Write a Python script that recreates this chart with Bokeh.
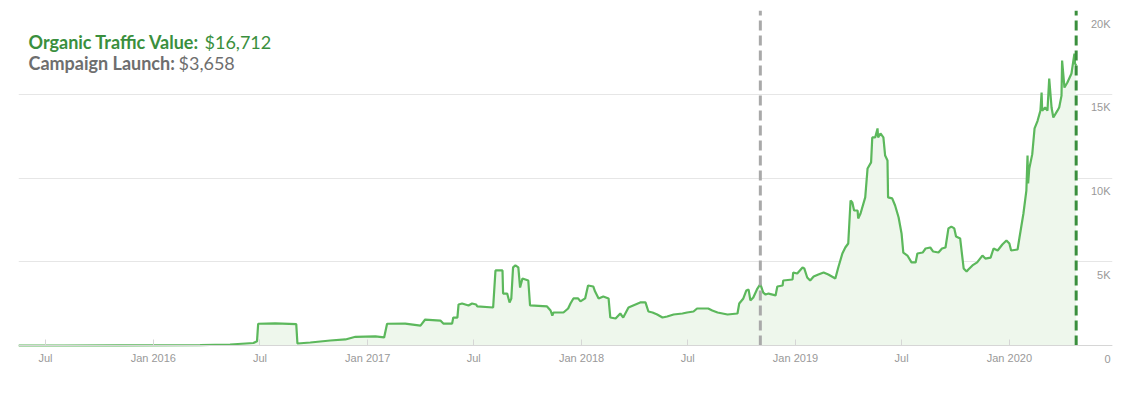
import pandas as pd
from bokeh.plotting import figure
from bokeh.models import (Range1d, FixedTicker, CustomJSTickFormatter, Label,
                          Grid, ColumnDataSource)
from bokeh.embed import file_html
from bokeh.resources import INLINE

# ---------------- data ----------------
dates = [
    "2015-05-16", "2015-08-01", "2015-11-06", "2016-03-21", "2016-05-11", "2016-06-20",
    "2016-06-26", "2016-06-28", "2016-07-27", "2016-09-01", "2016-09-03", "2016-09-25",
    "2016-10-29", "2016-11-24", "2016-12-11", "2017-01-14", "2017-01-29", "2017-02-03",
    "2017-03-06", "2017-04-01", "2017-04-09", "2017-05-05", "2017-05-10", "2017-05-25",
    "2017-05-27", "2017-06-03", "2017-06-05", "2017-06-11", "2017-06-22", "2017-06-28",
    "2017-07-05", "2017-07-07", "2017-08-03", "2017-08-07", "2017-08-19", "2017-08-20",
    "2017-08-27", "2017-08-31", "2017-09-03", "2017-09-06", "2017-09-10", "2017-09-15",
    "2017-09-18", "2017-09-22", "2017-10-02", "2017-10-05", "2017-11-03", "2017-11-09",
    "2017-11-12", "2017-11-14", "2017-12-01", "2017-12-09", "2017-12-13", "2017-12-18",
    "2017-12-26", "2017-12-30", "2018-01-07", "2018-01-12", "2018-01-21", "2018-01-24",
    "2018-01-30", "2018-02-07", "2018-02-16", "2018-02-19", "2018-02-28", "2018-03-08",
    "2018-03-13", "2018-03-22", "2018-03-30", "2018-04-11", "2018-04-20", "2018-04-25",
    "2018-05-02", "2018-05-10", "2018-05-19", "2018-05-27", "2018-06-07", "2018-06-22",
    "2018-06-30", "2018-07-11", "2018-07-17", "2018-08-05", "2018-08-12", "2018-08-21",
    "2018-09-07", "2018-09-24", "2018-09-27", "2018-10-04", "2018-10-09", "2018-10-13",
    "2018-10-16", "2018-10-21", "2018-10-28", "2018-11-02", "2018-11-07", "2018-11-11",
    "2018-11-16", "2018-11-28", "2018-12-01", "2018-12-10", "2018-12-11", "2018-12-27",
    "2018-12-28", "2019-01-04", "2019-01-13", "2019-01-16", "2019-01-21", "2019-01-26",
    "2019-02-01", "2019-02-09", "2019-02-18", "2019-02-26", "2019-03-07", "2019-03-10",
    "2019-03-15", "2019-03-22", "2019-03-27", "2019-04-01", "2019-04-05", "2019-04-08",
    "2019-04-11", "2019-04-17", "2019-04-18", "2019-04-22", "2019-04-30", "2019-05-04",
    "2019-05-10", "2019-05-12", "2019-05-17", "2019-05-21", "2019-05-22", "2019-05-26",
    "2019-05-31", "2019-06-03", "2019-06-07", "2019-06-08", "2019-06-15", "2019-06-20",
    "2019-06-26", "2019-07-01", "2019-07-04", "2019-07-11", "2019-07-18", "2019-07-25",
    "2019-07-28", "2019-08-06", "2019-08-11", "2019-08-19", "2019-08-24", "2019-09-02",
    "2019-09-08", "2019-09-14", "2019-09-19", "2019-09-24", "2019-09-29", "2019-10-02",
    "2019-10-09", "2019-10-15", "2019-10-20", "2019-10-23", "2019-10-30", "2019-11-07",
    "2019-11-16", "2019-11-21", "2019-11-30", "2019-12-05", "2019-12-12", "2019-12-20",
    "2019-12-27", "2020-01-01", "2020-01-04", "2020-01-15", "2020-01-18", "2020-01-25",
    "2020-01-30", "2020-02-01", "2020-02-02", "2020-02-04", "2020-02-09", "2020-02-13",
    "2020-02-18", "2020-02-23", "2020-02-25", "2020-02-26", "2020-03-02", "2020-03-06",
    "2020-03-09", "2020-03-13", "2020-03-16", "2020-03-23", "2020-03-26", "2020-03-30",
    "2020-03-31", "2020-04-04", "2020-04-09", "2020-04-16", "2020-04-21", "2020-04-22",
    "2020-04-24",
]
traffic_value = [
    0, 0, 5, 20, 60, 150,
    250, 1300, 1320, 1280, 120, 180,
    300, 360, 520, 540, 480, 1300,
    1310, 1190, 1550, 1490, 1310, 1310,
    1670, 1670, 2450, 2510, 2390, 2510,
    2450, 2330, 2270, 4480, 4480, 3100,
    3100, 2570, 2800, 4660, 4780, 4660,
    3460, 4000, 3880, 2390, 2330, 2090,
    1790, 1970, 1970, 2210, 2510, 2810,
    2810, 2630, 2810, 3580, 3520, 3220,
    2810, 2930, 2810, 1670, 1610, 1910,
    1670, 2270, 2390, 2570, 2570, 2030,
    1970, 1850, 1670, 1730, 1850, 1910,
    1970, 2030, 2210, 2210, 2090, 1970,
    1850, 1910, 2510, 2810, 3280, 3340,
    2690, 2870, 3400, 3658, 3160, 3040,
    3100, 2990, 3520, 3580, 3880, 3940,
    4360, 4300, 4660, 4600, 4060, 3880,
    4120, 4240, 4360, 4240, 4060, 4000,
    4660, 5490, 5850, 6090, 8660, 8540,
    8060, 8060, 7580, 7880, 8840, 10570,
    10930, 12420, 12420, 12960, 12420, 12660,
    12420, 11340, 11050, 8840, 8780, 8360,
    7640, 6690, 5550, 5370, 4960, 4960,
    5490, 5550, 5790, 5850, 5610, 5550,
    5790, 5850, 6990, 7100, 6990, 6510,
    6390, 4600, 4420, 4540, 4780, 4960,
    5370, 5190, 5250, 5790, 5670, 6030,
    6270, 6090, 5670, 5730, 6390, 7880,
    9250, 11340, 9670, 10570, 11410, 12960,
    13400, 14020, 15100, 14020, 14210, 14020,
    15940, 14210, 13610, 14020, 14210, 14920,
    17010, 15400, 15700, 16240, 17430, 16840,
    16712,
]

x_start, x_end = "2015-05-16", "2020-06-25"
y_max = 20000
launch_date = "2018-11-02"
latest_date = "2020-04-24"
y_ticks = [0, 5000, 10000, 15000, 20000]
y_tick_labels = ["0", "5K", "10K", "15K", "20K"]
x_tick_dates = ["2015-07-01", "2016-01-01", "2016-07-01", "2017-01-01", "2017-07-01",
                "2018-01-01", "2018-07-01", "2019-01-01", "2019-07-01", "2020-01-01"]
x_tick_labels = ["Jul", "Jan 2016", "Jul", "Jan 2017", "Jul",
                 "Jan 2018", "Jul", "Jan 2019", "Jul", "Jan 2020"]
legend_main = ("Organic Traffic Value:", "$16,712")
legend_launch = ("Campaign Launch:", "$3,658")


def ms(d):
    return pd.Timestamp(d).value / 1e6


# ---------------- figure ----------------
LINE = "#5cb85c"
GREEN_DARK = "#3a8f3d"
GRAY_TXT = "#6e6e6e"
AXIS_TXT = "#999999"

PLOT_H = 335          # px from 0 to y_max
LABEL_ROOM = 24       # px of frame kept below the zero line for the axis labels
y_floor = -y_max * LABEL_ROOM / PLOT_H

src = ColumnDataSource(dict(x=pd.to_datetime(dates), y=traffic_value))

p = figure(frame_width=1094, frame_height=PLOT_H + LABEL_ROOM, output_backend="svg",
           toolbar_location=None, x_axis_type="datetime", y_axis_location=None,
           x_range=Range1d(ms(x_start), ms(x_end)), y_range=Range1d(y_floor, y_max),
           min_border_left=18, min_border_right=9, min_border_top=10, min_border_bottom=0)
p.outline_line_color = None
p.xgrid.visible = False
for g in p.ygrid:
    g.visible = False
p.add_layout(Grid(dimension=1, ticker=FixedTicker(ticks=y_ticks),
                  grid_line_color="#e6e6e6", grid_line_width=1))

p.varea(x="x", y1=0, y2="y", source=src, fill_color="#eef7ec", fill_alpha=1.0)
p.line(x="x", y="y", source=src, line_color=LINE, line_width=2.2)

xt_ms = [ms(d) for d in x_tick_dates]
ax = p.xaxis[0]
ax.fixed_location = 0
ax.ticker = FixedTicker(ticks=xt_ms)
ax.formatter = CustomJSTickFormatter(args=dict(tvals=xt_ms, tlabels=x_tick_labels), code="""
    for (let i = 0; i < tvals.length; i++) { if (Math.abs(tvals[i] - tick) < 1) return tlabels[i]; }
    return "";
""")
ax.axis_line_color = "#d6d6d6"
ax.major_tick_line_color = "#d6d6d6"
ax.major_tick_in = 6
ax.major_tick_out = 0
ax.minor_tick_line_color = None
ax.major_label_standoff = 6
ax.major_label_text_font = "Liberation Sans"
ax.major_label_text_font_size = "11px"
ax.major_label_text_color = AXIS_TXT

# y tick labels drawn inside the plot at the right, just under each grid line
for v, t in zip(y_ticks, y_tick_labels):
    p.add_layout(Label(x=ms(x_end), y=v, text=t, x_offset=-2, y_offset=-13,
                       text_align="right", text_baseline="middle",
                       text_font="Liberation Sans", text_font_size="11px",
                       text_color=AXIS_TXT))

# vertical markers (launch, latest), from 0 to the top
p.segment(x0=[ms(launch_date)], y0=[0], x1=[ms(launch_date)], y1=[y_max],
          line_color="#a9a9a9", line_width=3, line_dash="10 5")
p.segment(x0=[ms(latest_date)], y0=[0], x1=[ms(latest_date)], y1=[y_max],
          line_color=GREEN_DARK, line_width=3, line_dash="10 5")

# legend text
top_y = PLOT_H + LABEL_ROOM
p.add_layout(Label(x=10, y=top_y - 31, x_units="screen", y_units="screen", text=legend_main[0],
                   text_font="Lato", text_font_style="bold", text_font_size="18px",
                   text_color=GREEN_DARK, text_baseline="middle"))
p.add_layout(Label(x=186, y=top_y - 31, x_units="screen", y_units="screen", text=legend_main[1],
                   text_font="Lato", text_font_size="18px",
                   text_color=GREEN_DARK, text_baseline="middle"))
p.add_layout(Label(x=10, y=top_y - 52, x_units="screen", y_units="screen", text=legend_launch[0],
                   text_font="Lato", text_font_style="bold", text_font_size="18px",
                   text_color=GRAY_TXT, text_baseline="middle"))
p.add_layout(Label(x=160, y=top_y - 52, x_units="screen", y_units="screen", text=legend_launch[1],
                   text_font="Lato", text_font_size="18px",
                   text_color=GRAY_TXT, text_baseline="middle"))

open("out.html", "w").write(file_html(p, INLINE))
